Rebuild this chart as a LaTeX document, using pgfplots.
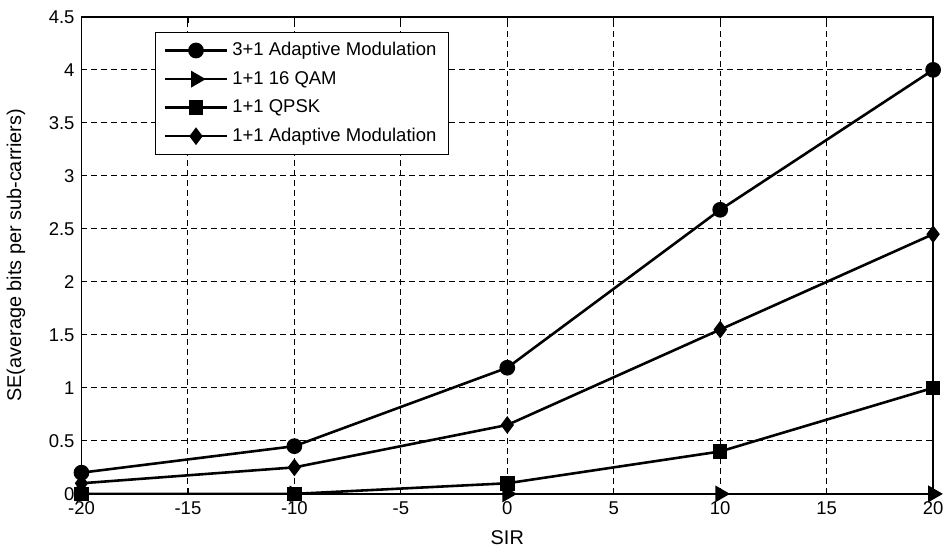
\documentclass[border=0pt]{standalone}
\usepackage{pgfplots}
\pgfplotsset{compat=1.18}
\usepackage{fontspec}
\setmainfont{Liberation Sans}
\begin{document}
\begin{tikzpicture}
\begin{axis}[
  scale only axis,
  width=428.5pt, height=240pt,
  xmin=-20, xmax=20, ymin=0, ymax=4.5,
  xtick={-20,-15,...,20},
  ytick={0,0.5,...,4.5},
  yticklabels={0,0.5,1,1.5,2,2.5,3,3.5,4,4.5},
  /pgf/number format/assume math mode=true,
  tick label style={font=\fontsize{9.3}{10}\selectfont},
  label style={font=\fontsize{9.3}{10}\selectfont},
  xticklabel style={yshift=-0.5pt},
  xlabel={SIR},
  ylabel={SE(average bits per sub-carriers)},
  every axis x label/.style={at={(axis description cs:0.5,0)}, anchor=center, yshift=-22pt},
  every axis y label/.style={at={(axis description cs:0,0.5)}, rotate=90, anchor=center, yshift=33pt},
  grid=major,
  major grid style={black, dash pattern=on 3pt off 2pt, line width=0.5pt},
  tick align=inside,
  major tick length=3pt,
  axis line style={line width=0.7pt},
  every tick/.style={black, line width=0.6pt},
  legend style={at={(0.0863,0.969)}, anchor=north west, draw=black, line width=0.7pt,
    font=\fontsize{9.3}{10}\selectfont, row sep=2.3pt, inner xsep=4pt, inner ysep=3pt},
  legend cell align=left,
  legend image code/.code={%
    \draw[mark repeat=2,mark phase=2] plot coordinates {(0cm,0cm) (0.55cm,0cm) (1.1cm,0cm)};},
]
\addplot[black, line width=1.3pt, mark=*, mark size=3.3pt] coordinates {
  (-20,0.2) (-10,0.45) (0,1.19) (10,2.68) (20,4.0)};
\addlegendentry{3+1 Adaptive Modulation}
\addplot[black, line width=1.3pt, mark=triangle*, mark size=3.6pt, mark options={rotate=-90}] coordinates {
  (-20,0) (-10,0) (0,0) (10,0) (20,0)};
\addlegendentry{1+1 16 QAM}
\addplot[black, line width=1.3pt, mark=square*, mark size=3pt] coordinates {
  (-20,0) (-10,0) (0,0.1) (10,0.4) (20,1.0)};
\addlegendentry{1+1 QPSK}
\addplot[black, line width=1.3pt, mark=diamond*, mark size=3.4pt] coordinates {
  (-20,0.1) (-10,0.25) (0,0.65) (10,1.55) (20,2.45)};
\addlegendentry{1+1 Adaptive Modulation}
\end{axis}
\path (current axis.south west) ++(-40.5pt,-28.5pt);
\path (current axis.north east) ++(6pt,8.5pt);
\end{tikzpicture}
\end{document}
